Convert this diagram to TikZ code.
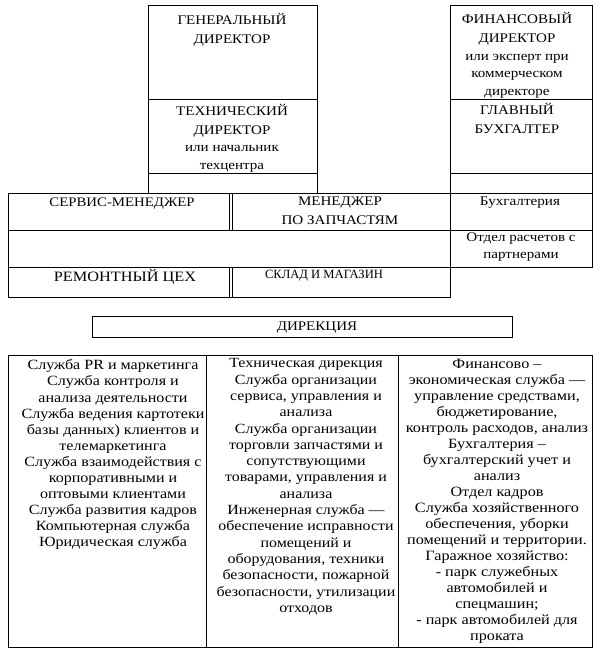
\documentclass[tikz,border=0pt]{standalone}
\usepackage{fontspec}
\setmainfont{Liberation Serif}
\newfontfamily\scan[FakeStretch=1.14]{Liberation Serif}
\usetikzlibrary{positioning}
\tikzset{
  frame/.style={draw=black, line width=0.8pt, line join=miter},
  txt/.style={align=center, inner sep=0pt, anchor=north},
  head/.style={txt, font=\scan\fontsize{13.2}{19}\selectfont},
  sub/.style={txt, font=\scan\fontsize{13.2}{#1}\selectfont},
  cell/.style={txt, font=\scan\fontsize{#1}{19}\selectfont},
  cell/.default=13.2,
  list/.style args={#1/#2}{txt, font=\scan\fontsize{#1}{#2}\selectfont},
}
\begin{document}
\begin{tikzpicture}[x=1pt,y=-1pt]
  \useasboundingbox (0,0) rectangle (600,651);
  % top columns
  \draw[frame] (148,5) rectangle (317,193);
  \draw[frame] (148,99) -- (317,99) (148,173) -- (317,173);
  \draw[frame] (450,5) rectangle (592,193);
  \draw[frame] (450,99) -- (592,99) (450,173) -- (592,173);
  % service block
  \draw[frame] (8,193) rectangle (450,297);
  \draw[frame] (8,230) -- (450,230) (8,267) -- (450,267);
  \foreach \x in {229,232}
    \draw[frame] (\x,193) -- (\x,230) (\x,267) -- (\x,297);
  \draw[frame] (450,193) rectangle (592,267);
  \draw[frame] (450,230) -- (592,230);
  % direction
  \draw[frame] (92,316) rectangle (512,337);
  % bottom table
  \draw[frame] (8,355) rectangle (592,647);
  \draw[frame] (206,355) -- (206,647) (398,355) -- (398,647);

  \node[head] (gd) at (232,13.1) {ГЕНЕРАЛЬНЫЙ\\ДИРЕКТОР};
  \node[head] (td) at (232,104.6) {ТЕХНИЧЕСКИЙ\\ДИРЕКТОР};
  \node[sub=18] (tdsub) at (232,145.4) {или начальник\\техцентра};
  \node[head] (fd) at (517,12.6) {ФИНАНСОВЫЙ\\ДИРЕКТОР};
  \node[sub=17.2] (fdsub) at (517,54.3) {или эксперт при\\коммерческом\\директоре};
  \node[head] (gb) at (517,103.1) {ГЛАВНЫЙ\\БУХГАЛТЕР};

  \node[cell=13] (sm) at (122,197.7) {СЕРВИС-МЕНЕДЖЕР};
  \node[cell] (mz) at (340,197.1) {МЕНЕДЖЕР\\ПО ЗАПЧАСТЯМ};
  \node[cell=14.3] (rc) at (125,269.1) {РЕМОНТНЫЙ ЦЕХ};
  \node[txt, font=\fontsize{12.6}{19}\selectfont] (sk) at (324,269.6) {СКЛАД И МАГАЗИН};
  \node[cell=13.3] (bh) at (520,196.6) {Бухгалтерия};
  \node[sub=17] (or) at (521,232.6) {Отдел расчетов с\\партнерами};

  \node[cell] (dir) at (317,321.6) {ДИРЕКЦИЯ};

  \node[list=14.1/16.1] (c1) at (113,359.5) {Служба PR и маркетинга\\Служба контроля и\\анализа деятельности\\Служба ведения картотеки\\базы данных) клиентов и\\телемаркетинга\\Служба взаимодействия с\\корпоративными и\\оптовыми клиентами\\Служба развития кадров\\Компьютерная служба\\Юридическая служба};
  \node[list=14/16.3] (c2) at (306,358.5) {Техническая дирекция\\Служба организации\\сервиса, управления и\\анализа\\Служба организации\\торговли запчастями и\\сопутствующими\\товарами, управления и\\анализа\\Инженерная служба —\\обеспечение исправности\\помещений и\\оборудования, техники\\безопасности, пожарной\\безопасности, утилизации\\отходов};
  \node[list=14.2/16.05] (c3) at (497,358.6) {Финансово –\\экономическая служба —\\управление средствами,\\бюджетирование,\\контроль расходов, анализ\\Бухгалтерия –\\бухгалтерский учет и\\анализ\\Отдел кадров\\Служба хозяйственного\\обеспечения, уборки\\помещений и территории.\\Гаражное хозяйство:\\- парк служебных\\автомобилей и\\спецмашин;\\- парк автомобилей для\\проката};
\end{tikzpicture}
\end{document}
